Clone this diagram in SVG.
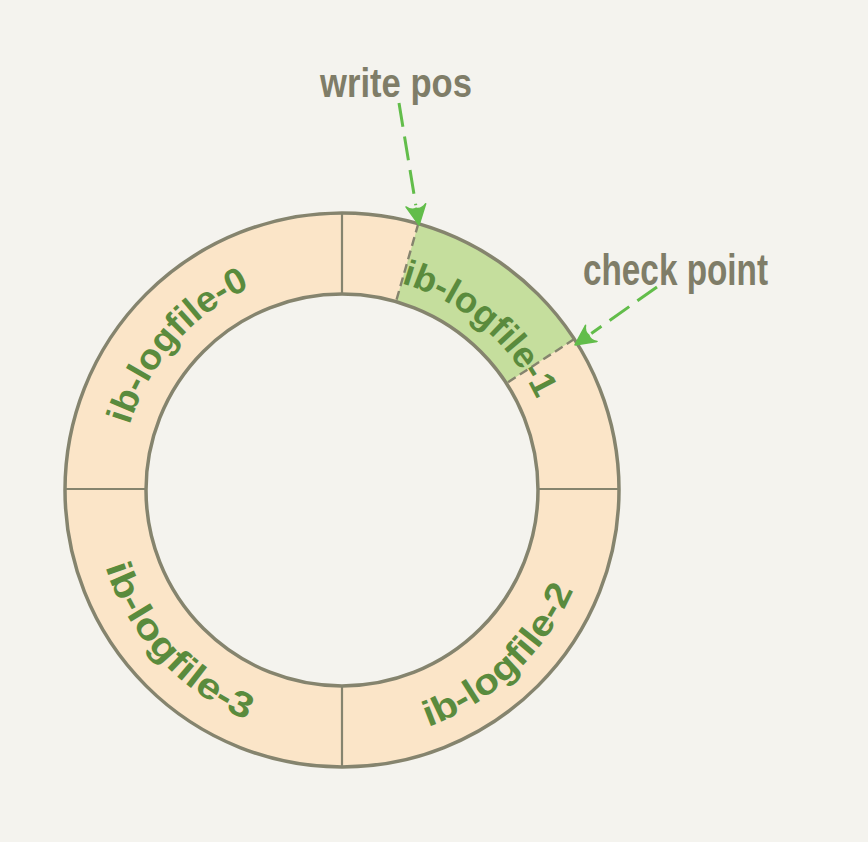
<svg xmlns="http://www.w3.org/2000/svg" width="868" height="842" viewBox="0 0 868 842">
<style>
.ring{fill:none;stroke:#85846e;stroke-width:3.5}
.div{stroke:#85846e;stroke-width:2.2;fill:none}
.dash{stroke:#85846e;stroke-width:2.4;fill:none;stroke-dasharray:9 5}
.lbl{font-family:"Liberation Sans",Arial,sans-serif;font-weight:bold;font-size:36px;fill:#5a8b3d}
.note{font-family:"Liberation Sans",Arial,sans-serif;font-weight:bold;fill:#7f7d68}
.arrow{stroke:#62bd4a;stroke-width:3;fill:none;stroke-dasharray:24 10}
</style>
<defs>
<marker id="ah" markerUnits="userSpaceOnUse" viewBox="0 0 24 22" markerWidth="24" markerHeight="22" refX="2" refY="11" orient="auto">
<path d="M22,11 L2,1 Q7,6 5,11 Q7,16 2,21 Z" fill="#62bd4a" stroke="#62bd4a" stroke-width="1.5" stroke-linejoin="round"/>
</marker>
<path id="p0" d="M129.7,425.1 A222,222 0 0 1 255.3,285.6"/>
<path id="p1" d="M401.3,283.3 A215,215 0 0 1 539.9,406"/>
<path id="p2" d="M428.2,726.8 A252,252 0 0 0 577.3,580.3"/>
<path id="p3" d="M105.2,566.9 A249,249 0 0 0 260.9,725.4"/>
</defs>
<rect width="868" height="842" fill="#f4f3ee"/>
<g id="ring-fill">
<circle cx="342" cy="490" r="277" fill="#fbe5c8"/>
<circle cx="342" cy="490" r="196" fill="#f4f3ee"/>
</g>
<g id="write-area">
<path d="M418.3,223.7 A277,277 0 0 1 574.3,339.1 L506.4,383.3 A196,196 0 0 0 396,301.6 Z" fill="#c5de9d"/>
</g>
<g id="outline">
<circle class="ring" cx="342" cy="490" r="277"/>
<circle class="ring" cx="342" cy="490" r="196"/>
<line class="div" x1="342" y1="213" x2="342" y2="294"/>
<line class="div" x1="538" y1="489" x2="619" y2="489"/>
<line class="div" x1="342" y1="686" x2="342" y2="767"/>
<line class="div" x1="65" y1="489" x2="146" y2="489"/>
<line class="dash" x1="418.3" y1="223.7" x2="396" y2="301.6"/>
<line class="dash" x1="574.3" y1="339.1" x2="506.4" y2="383.3"/>
</g>
<g id="ib_logfile_0"><text class="lbl"><textPath href="#p0" textLength="188" lengthAdjust="spacingAndGlyphs">ib-logfile-0</textPath></text></g>
<g id="ib_logfile_1"><text class="lbl"><textPath href="#p1" textLength="184" lengthAdjust="spacingAndGlyphs">ib-logfile-1</textPath></text></g>
<g id="ib_logfile_2"><text class="lbl"><textPath href="#p2" textLength="205" lengthAdjust="spacingAndGlyphs">ib-logfile-2</textPath></text></g>
<g id="ib_logfile_3"><text class="lbl"><textPath href="#p3" textLength="215" lengthAdjust="spacingAndGlyphs">ib-logfile-3</textPath></text></g>
<g id="write_pos"><text class="note" x="320" y="97" font-size="40" textLength="152" lengthAdjust="spacingAndGlyphs">write pos</text></g>
<g id="check_point"><text class="note" x="583" y="285" font-size="44" textLength="185" lengthAdjust="spacingAndGlyphs">check point</text></g>
<g id="connectors">
<line class="arrow" x1="399" y1="103" x2="415.8" y2="205.3" marker-end="url(#ah)"/>
<line class="arrow" x1="657" y1="287" x2="591.3" y2="333.4" marker-end="url(#ah)"/>
</g>
</svg>
